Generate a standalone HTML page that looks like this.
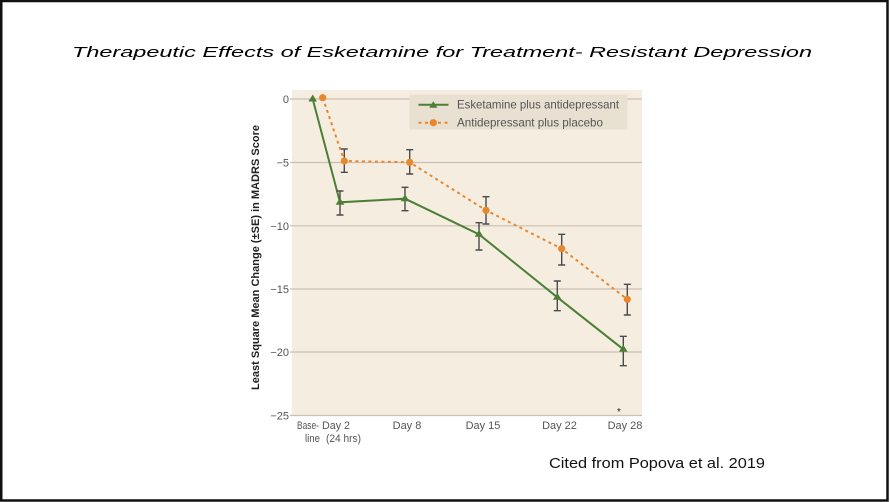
<!DOCTYPE html>
<html>
<head>
<meta charset="utf-8">
<style>
html,body{margin:0;padding:0;background:#fff;}
svg{display:block;}
</style>
</head>
<body>
<svg width="890" height="502" viewBox="0 0 890 502" xmlns="http://www.w3.org/2000/svg">
  <rect x="0" y="0" width="890" height="502" fill="#fff"/>
  <!-- border -->
  <rect x="1.25" y="1" width="886.25" height="499.5" fill="none" stroke="#111" stroke-width="2.5"/>

  <!-- title -->
  <text x="72" y="57" font-family="Liberation Sans, sans-serif" font-style="italic" font-size="14.5" fill="#000" textLength="740" lengthAdjust="spacingAndGlyphs">Therapeutic Effects of Esketamine for Treatment- Resistant Depression</text>

  <!-- plot background -->
  <rect x="292" y="90" width="350" height="326" fill="#f6ede1"/>

  <!-- gridlines -->
  <g stroke="#c9c0b2" stroke-width="1.2">
    <line x1="290" y1="99" x2="642" y2="99"/>
    <line x1="290" y1="162.5" x2="642" y2="162.5"/>
    <line x1="290" y1="225.8" x2="642" y2="225.8"/>
    <line x1="290" y1="289" x2="642" y2="289"/>
    <line x1="290" y1="352" x2="642" y2="352"/>
    <line x1="290" y1="415.5" x2="642" y2="415.5"/>
  </g>

  <!-- y tick labels -->
  <g font-family="Liberation Sans, sans-serif" font-size="11" fill="#555" text-anchor="end">
    <text x="289" y="103">0</text>
    <text x="289" y="166.5">−5</text>
    <text x="289" y="229.8">−10</text>
    <text x="289" y="293">−15</text>
    <text x="289" y="356">−20</text>
    <text x="289" y="419.5">−25</text>
  </g>

  <!-- y axis title -->
  <text transform="translate(259,390) rotate(-90)" x="0" y="0" font-family="Liberation Sans, sans-serif" font-weight="bold" font-size="11" fill="#222" textLength="265" lengthAdjust="spacingAndGlyphs">Least Square Mean Change (±SE) in MADRS Score</text>

  <!-- x labels -->
  <g font-family="Liberation Sans, sans-serif" font-size="11" fill="#555">
    <text x="297" y="429" textLength="22" lengthAdjust="spacingAndGlyphs">Base-</text>
    <text x="305" y="442" textLength="15" lengthAdjust="spacingAndGlyphs">line</text>
    <text x="322" y="429" textLength="28" lengthAdjust="spacingAndGlyphs">Day 2</text>
    <text x="326" y="442" textLength="35" lengthAdjust="spacingAndGlyphs">(24 hrs)</text>
  </g>
  <g font-family="Liberation Sans, sans-serif" font-size="11" fill="#555" text-anchor="middle">
    <text x="407" y="429">Day 8</text>
    <text x="483" y="429">Day 15</text>
    <text x="559.5" y="429">Day 22</text>
    <text x="625" y="429">Day 28</text>
  </g>

  <!-- placebo line (dotted orange) -->
  <polyline points="322.7,97.7 344.3,161 409.7,162.3 486,210.3 561.7,248.7 627.3,299.3" fill="none" stroke="#e8872c" stroke-width="2" stroke-dasharray="3,3.5"/>

  <!-- esketamine line -->
  <polyline points="312.7,99 340,202.3 405,198.7 479,234.3 557.3,297.3 623.3,349.3" fill="none" stroke="#4b7f34" stroke-width="2"/>

  <!-- error bars -->
  <g stroke="#4a4a4a" stroke-width="1.4" fill="none">
    <path d="M340,191V215M336.5,191H343.5M336.5,215H343.5"/>
    <path d="M405,187.3V210.7M401.5,187.3H408.5M401.5,210.7H408.5"/>
    <path d="M479,222.7V250M475.5,222.7H482.5M475.5,250H482.5"/>
    <path d="M557.3,281V310.7M553.8,281H560.8M553.8,310.7H560.8"/>
    <path d="M623.3,336.3V365.7M619.8,336.3H626.8M619.8,365.7H626.8"/>
    <path d="M344.3,149V172.3M340.8,149H347.8M340.8,172.3H347.8"/>
    <path d="M409.7,149.7V174M406.2,149.7H413.2M406.2,174H413.2"/>
    <path d="M486,196.7V224M482.5,196.7H489.5M482.5,224H489.5"/>
    <path d="M561.7,234.3V265M558.2,234.3H565.2M558.2,265H565.2"/>
    <path d="M627.3,284.3V315M623.8,284.3H630.8M623.8,315H630.8"/>
  </g>

  <!-- placebo markers -->
  <g fill="#e8872c">
    <circle cx="322.7" cy="97.7" r="3.6"/>
    <circle cx="344.3" cy="161" r="3.6"/>
    <circle cx="409.7" cy="162.3" r="3.6"/>
    <circle cx="486" cy="210.3" r="3.6"/>
    <circle cx="561.7" cy="248.7" r="3.6"/>
    <circle cx="627.3" cy="299.3" r="3.6"/>
  </g>

  <!-- esketamine markers (triangles) -->
  <g fill="#4b7f34">
    <path d="M312.7,94.5 L317,101.5 L308.4,101.5Z"/>
    <path d="M340,197.8 L344.3,204.8 L335.7,204.8Z"/>
    <path d="M405,194.2 L409.3,201.2 L400.7,201.2Z"/>
    <path d="M479,229.8 L483.3,236.8 L474.7,236.8Z"/>
    <path d="M557.3,292.8 L561.6,299.8 L553,299.8Z"/>
    <path d="M623.3,344.8 L627.6,351.8 L619,351.8Z"/>
  </g>

  <!-- asterisk -->
  <text x="619" y="415" font-family="Liberation Sans, sans-serif" font-size="10" fill="#222" text-anchor="middle">*</text>

  <!-- legend -->
  <rect x="409.5" y="94.5" width="218" height="35" fill="#e8e0d1"/>
  <line x1="418.5" y1="104.7" x2="448.5" y2="104.7" stroke="#4b7f34" stroke-width="2"/>
  <path d="M433.3,101.2 L437.4,107.8 L429.2,107.8Z" fill="#4b7f34"/>
  <line x1="418.5" y1="122.7" x2="448.5" y2="122.7" stroke="#e8872c" stroke-width="2" stroke-dasharray="3,3.5"/>
  <circle cx="433.3" cy="122.7" r="3.6" fill="#e8872c"/>
  <g font-family="Liberation Sans, sans-serif" font-size="12" fill="#555">
    <text x="457" y="108.5" textLength="162" lengthAdjust="spacingAndGlyphs">Esketamine plus antidepressant</text>
    <text x="457" y="126.5" textLength="146" lengthAdjust="spacingAndGlyphs">Antidepressant plus placebo</text>
  </g>

  <!-- citation -->
  <text x="549" y="468" font-family="Liberation Sans, sans-serif" font-size="14.5" fill="#111" textLength="216" lengthAdjust="spacingAndGlyphs">Cited from Popova et al. 2019</text>
</svg>
</body>
</html>
